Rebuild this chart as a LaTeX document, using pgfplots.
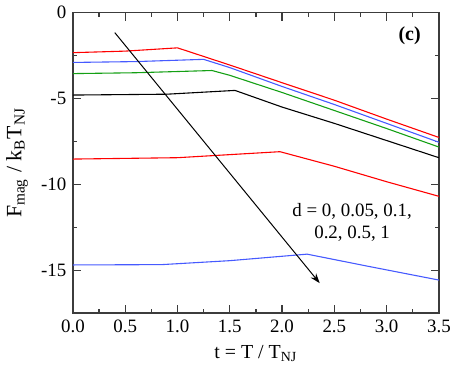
\documentclass[border=0pt]{standalone}
\usepackage{fontspec}
\setmainfont{Liberation Serif}
\usepackage{pgfplots}
\pgfplotsset{compat=1.18}
\usetikzlibrary{arrows.meta}
\definecolor{lblue}{RGB}{70,90,255}
\definecolor{dgreen}{RGB}{20,160,20}
\definecolor{axgray}{RGB}{60,60,60}

\begin{document}
\fontsize{9.5}{11}\selectfont
\begin{tikzpicture}
\begin{axis}[
    width=184pt, height=151pt,
    scale only axis,
    xmin=0, xmax=3.5,
    ymin=-17.5, ymax=0,
    xtick={0,0.5,...,3.5},
    minor xtick={0.25,0.75,...,3.25},
    ytick={-15,-10,-5,0},
    minor ytick={-17.5,-12.5,-7.5,-2.5},
    tick align=inside,
    major tick length=4pt,
    minor tick length=2pt,
    axis line style={axgray, line width=0.8pt},
    every tick/.style={axgray, line width=0.6pt},
    xticklabel style={/pgf/number format/.cd, fixed, fixed zerofill, precision=1},
    /pgf/number format/assume math mode=true,
    xlabel={t = T / T\textsubscript{NJ}},
    ylabel={F\textsubscript{mag} / k\textsubscript{B}T\textsubscript{NJ}},
    ylabel style={font=\fontsize{11}{13}\selectfont},
    xlabel style={font=\fontsize{10}{12}\selectfont},
    every axis plot/.append style={line width=0.55pt},
]
% d = 0
\addplot[red] coordinates {(0,-2.33) (0.5,-2.24) (1.0,-2.05) (1.5,-3.05) (2.0,-4.08) (2.5,-5.1) (3.0,-6.2) (3.5,-7.27)};
% d = 0.05
\addplot[lblue] coordinates {(0,-2.9) (0.6,-2.85) (1.25,-2.72) (1.5,-3.2) (2.0,-4.3) (2.5,-5.35) (3.0,-6.45) (3.5,-7.55)};
% d = 0.1
\addplot[dgreen] coordinates {(0,-3.55) (0.6,-3.5) (1.33,-3.37) (1.5,-3.65) (2.0,-4.65) (2.5,-5.7) (3.0,-6.75) (3.5,-7.83)};
% d = 0.2
\addplot[black] coordinates {(0,-4.8) (0.9,-4.75) (1.55,-4.53) (2.0,-5.5) (2.5,-6.45) (3.0,-7.45) (3.5,-8.45)};
% d = 0.5
\addplot[red] coordinates {(0,-8.53) (1.0,-8.45) (1.98,-8.1) (2.5,-8.95) (3.0,-9.85) (3.5,-10.7)};
% d = 1
\addplot[lblue] coordinates {(0,-14.7) (0.85,-14.68) (1.5,-14.45) (2.24,-14.07) (2.8,-14.75) (3.5,-15.58)};
% arrow
\addplot[black, line width=0.5pt, -{Stealth[length=5pt,width=3.5pt]}] coordinates {(0.40,-1.16) (2.36,-15.76)};
\node[font=\bfseries\fontsize{10}{12}\selectfont] at (axis cs:3.22,-1.34) {(c)};
\node[align=center, font=\fontsize{9.5}{11}\selectfont, inner sep=0pt] at (axis cs:2.67,-12.2) {d = 0, 0.05, 0.1,\\ 0.2, 0.5, 1};
\end{axis}
\end{tikzpicture}
\end{document}
